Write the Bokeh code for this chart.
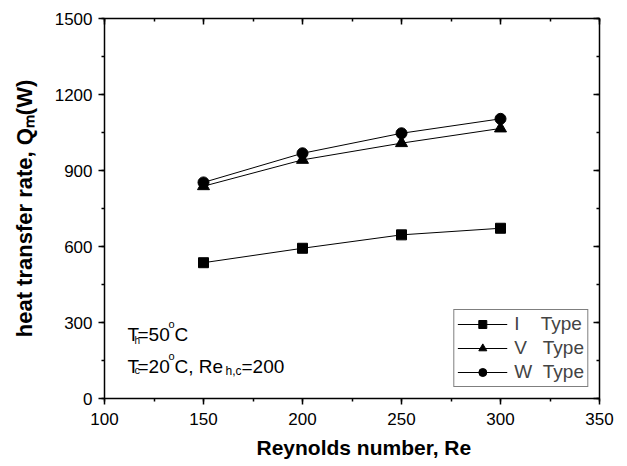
from bokeh.plotting import figure
from bokeh.models import (Label, LinearAxis, SingleIntervalTicker, Range1d, Legend, LegendItem,
                          CustomJSTickFormatter, Title)
from bokeh.embed import file_html
from bokeh.resources import INLINE

# ---- data ----
reynolds = [150, 200, 250, 300]
q_i_type = [536, 593, 646, 672]
q_v_type = [838, 942, 1008, 1066]
q_w_type = [853, 968, 1047, 1104]
legend_labels = ["I\u00a0\u00a0\u00a0\u00a0Type", "V\u00a0\u00a0\u00a0Type", "W\u00a0\u00a0Type"]
x_title = "Reynolds number, Re"
y_title = "heat transfer rate, Q\u2098(W)"

FONT = "Liberation Sans"

p = figure(width=627, height=466, output_backend="svg", toolbar_location=None,
           x_range=Range1d(100, 350), y_range=Range1d(0, 1500),
           x_axis_type=None, y_axis_type=None,
           min_border_left=104, min_border_right=28, min_border_top=18, min_border_bottom=68)
p.outline_line_color = None
p.background_fill_color = "white"
p.border_fill_color = "white"


def make_axis(ticker, outward):
    ax = LinearAxis(ticker=ticker)
    ax.axis_line_color = "black"
    ax.axis_line_width = 1.5
    ax.major_tick_line_color = "black"
    ax.minor_tick_line_color = "black"
    ax.major_tick_line_width = 1.5
    ax.minor_tick_line_width = 1.5
    ax.major_label_text_font = FONT
    ax.major_label_text_color = "black"
    ax.major_label_text_font_size = "17px"
    if outward:
        ax.major_tick_out, ax.major_tick_in = 6, 0
        ax.minor_tick_out, ax.minor_tick_in = 3, 0
    else:
        ax.major_tick_out, ax.major_tick_in = 0, 6
        ax.minor_tick_out, ax.minor_tick_in = 0, 3
        ax.formatter = CustomJSTickFormatter(code="return ''")
        ax.major_label_standoff = 0
    ax.axis_label_text_font = FONT
    ax.axis_label_text_font_style = "bold"
    ax.axis_label_text_color = "black"
    return ax


xb = make_axis(SingleIntervalTicker(interval=50, num_minor_ticks=2), True)
xb.major_label_standoff = 8
p.add_layout(xb, "below")

xt = Title(text=x_title, align="left", offset=152, text_font=FONT, text_font_size="21px",
           text_font_style="bold", text_color="black", standoff=13)
p.add_layout(xt, "below")

yl = make_axis(SingleIntervalTicker(interval=300, num_minor_ticks=2), True)
yl.major_label_standoff = 6
yl.axis_label = y_title
yl.axis_label_text_font_size = "22px"
yl.axis_label_standoff = 15
p.add_layout(yl, "left")

p.add_layout(make_axis(SingleIntervalTicker(interval=50, num_minor_ticks=2), False), "above")
p.add_layout(make_axis(SingleIntervalTicker(interval=300, num_minor_ticks=2), False), "right")

# ---- series ----
items = []
for ys, marker, size, lab in [(q_i_type, "square", 10, legend_labels[0]),
                              (q_v_type, "triangle", 12, legend_labels[1]),
                              (q_w_type, "circle", 11, legend_labels[2])]:
    ln = p.line(reynolds, ys, line_color="black", line_width=1)
    sc = p.scatter(reynolds, ys, marker=marker, size=size, fill_color="black", line_color="black")
    items.append(LegendItem(label=lab, renderers=[ln, sc]))

legend = Legend(items=items, location="bottom_right")
legend.border_line_color = "black"
legend.border_line_width = 1
legend.background_fill_color = "white"
legend.background_fill_alpha = 1
legend.glyph_width = 50
legend.glyph_height = 20
legend.label_height = 20
legend.spacing = 2
legend.padding = 3
legend.margin = 11
legend.label_standoff = 7
legend.label_text_font = FONT
legend.label_text_font_size = "19px"
p.add_layout(legend)


def add_text(x, y, text, size, dx=0, dy=0):
    p.add_layout(Label(x=x, y=y, text=text, x_offset=dx, y_offset=dy,
                       text_font=FONT, text_font_size=f"{size}px",
                       text_color="black", text_align="left", text_baseline="alphabetic"))


# ---- conditions annotation ----
for txt, dx, dy, sz in [("T", 0, 0, 19), ("h", 7, -6, 10), ("=50", 10, 0, 19),
                        ("o", 41, 10, 11), ("C", 47, 0, 19)]:
    add_text(111.6, 253, txt, sz, dx=dx, dy=dy)
for txt, dx, dy, sz in [("T", 0, 0, 19), ("c", 7, -4, 11), ("=20", 10, 0, 19),
                        ("o", 41, 10, 11), ("C, Re", 47, 0, 19), ("h,c", 98, -5, 12),
                        ("=200", 114, 0, 19)]:
    add_text(111.6, 126.6, txt, sz, dx=dx, dy=dy)

open("out.html", "w").write(file_html(p, INLINE))
